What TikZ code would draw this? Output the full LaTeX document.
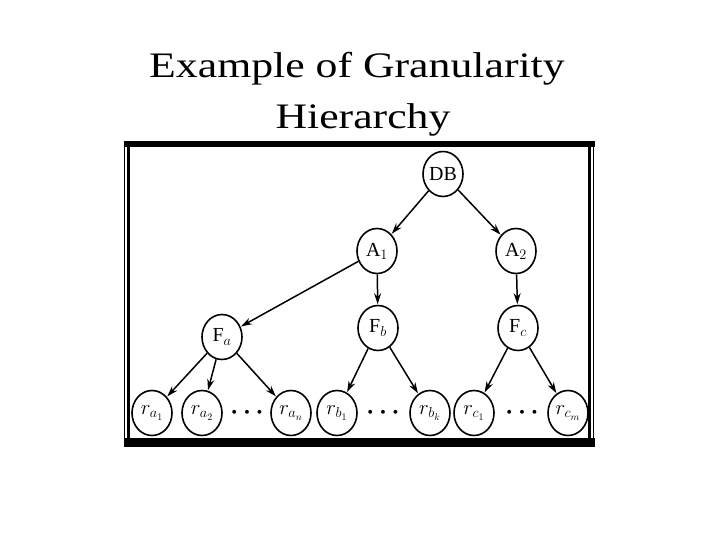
\documentclass[tikz,border=0pt]{standalone}
\usepackage{fontspec}
\setmainfont{Liberation Serif}
\newfontfamily\titlefont[FakeStretch=1.22]{Liberation Serif}
\usetikzlibrary{arrows.meta, shapes.geometric}
\tikzset{
  lvlnode/.style  = {ellipse, draw, line width=1.6pt, inner sep=0pt,
                     minimum width=40bp, minimum height=45bp,
                     font=\fontsize{20}{22}\selectfont},
  edge/.style     = {-{Stealth[length=11pt,width=7pt]}, line width=1.5pt, shorten >=0.5pt},
  dotsnode/.style = {font=\fontsize{26}{28}\selectfont\boldmath},
  titletxt/.style = {font=\titlefont\fontsize{36}{40}\selectfont, anchor=base, inner sep=0pt},
}
\begin{document}
\begin{tikzpicture}[x=1bp,y=-1bp]
  \useasboundingbox (0,0) rectangle (720,540);
  % title
  \node[titletxt] (title1) at (357,77.7) {Example of Granularity};
  \node[titletxt] (title2) at (363,128.3) {Hierarchy};
  % frame
  \fill[black] (123.5,141) rectangle (595,147);
  \fill[black] (123.5,438) rectangle (595,447);
  \draw[line width=1.4pt] (124.5,141) -- (124.5,447);
  \draw[line width=2.4pt] (128.5,141) -- (128.5,447);
  \draw[line width=2.4pt] (589.5,141) -- (589.5,447);
  \draw[line width=1.4pt] (593.5,141) -- (593.5,447);
  % tree
  \node[lvlnode] (DB) at (443,174) {DB};
  \node[lvlnode] (A1) at (377,251) {A$_1$};
  \node[lvlnode] (A2) at (516,251) {A$_2$};
  \node[lvlnode] (Fa) at (222,337) {F$_a$};
  \node[lvlnode] (Fb) at (378,328) {F$_b$};
  \node[lvlnode] (Fc) at (518,328) {F$_c$};
  \node[lvlnode] (ra1) at (152,413) {$r_{a_1}$};
  \node[lvlnode] (ra2) at (202,413) {$r_{a_2}$};
  \node[dotsnode] (dotsa) at (247,413) {$\cdots$};
  \node[lvlnode] (ran) at (291,413) {$r_{a_n}$};
  \node[lvlnode] (rb1) at (337,413) {$r_{b_1}$};
  \node[dotsnode] (dotsb) at (383,413) {$\cdots$};
  \node[lvlnode] (rbk) at (430,413) {$r_{b_k}$};
  \node[lvlnode] (rc1) at (474,413) {$r_{c_1}$};
  \node[dotsnode] (dotsc) at (522,413) {$\cdots$};
  \node[lvlnode] (rcm) at (568,413) {$r_{c_m}$};
  \draw[edge] (DB) -- (A1);
  \draw[edge] (DB) -- (A2);
  \draw[edge] (A1) -- (Fa);
  \draw[edge] (A1) -- (Fb);
  \draw[edge] (A2) -- (Fc);
  \foreach \leaf in {ra1, ra2, ran} \draw[edge] (Fa) -- (\leaf);
  \foreach \leaf in {rb1, rbk} \draw[edge] (Fb) -- (\leaf);
  \foreach \leaf in {rc1, rcm} \draw[edge] (Fc) -- (\leaf);
\end{tikzpicture}
\end{document}
